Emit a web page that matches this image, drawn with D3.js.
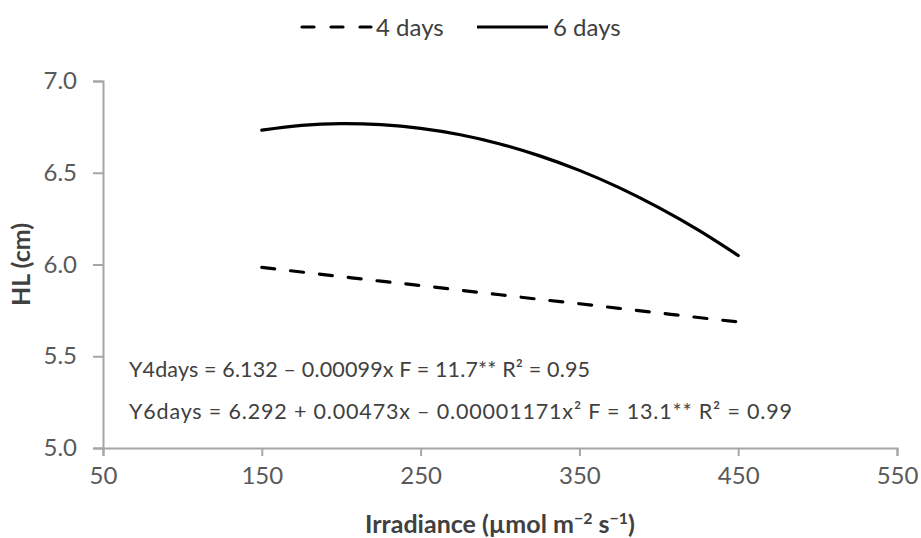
<!DOCTYPE html>
<html>
<head>
<meta charset="utf-8">
<script src="https://cdn.jsdelivr.net/npm/d3@7/dist/d3.min.js"></script>
<style>
  html, body { margin: 0; padding: 0; background: #fff; }
  svg { display: block; font-family: Lato, "Open Sans", sans-serif; }
</style>
</head>
<body>
<svg id="chart" width="921" height="538"></svg>
<script>
// Irradiance levels (µmol m-2 s-1) and hypocotyl length (cm) along each fitted curve
const irradiance = [150, 175, 200, 225, 250, 275, 300, 325, 350, 375, 400, 425, 450];
const hl4days = [5.984, 5.959, 5.934, 5.909, 5.885, 5.860, 5.835, 5.810, 5.786, 5.761, 5.736, 5.711, 5.687];
const hl6days = [6.732, 6.758, 6.768, 6.762, 6.742, 6.707, 6.657, 6.592, 6.513, 6.419, 6.310, 6.187, 6.049];

const seriesNames = ["4 days", "6 days"];
const xTicks = [50, 150, 250, 350, 450, 550];
const yTicks = [5.0, 5.5, 6.0, 6.5, 7.0];

const equations = [
  "Y4days = 6.132 \u2013 0.00099x F = 11.7** R\u00B2 = 0.95",
  "Y6days = 6.292 + 0.00473x \u2013 0.00001171x\u00B2 F = 13.1** R\u00B2 = 0.99"
];
// rendered width of each equation line
const equationWidths = [461, 663];

const svg = d3.select("#chart");
const margin = { left: 103, right: 24, top: 81, bottom: 90 };
const W = 921, H = 538;

const x = d3.scaleLinear().domain([50, 550]).range([margin.left, W - margin.right]);
const y = d3.scaleLinear().domain([5.0, 7.0]).range([H - margin.bottom, margin.top]);

const axisColor = "#a6a6a6";
const tickText = "#595959";
const darkText = "#404040";

// Y axis
const yAxis = svg.append("g")
  .attr("transform", `translate(${margin.left},0)`)
  .call(d3.axisLeft(y).tickValues(yTicks).tickFormat(d3.format(".1f")).tickSizeOuter(0).tickSize(10).tickPadding(16));
// X axis
const xAxis = svg.append("g")
  .attr("transform", `translate(0,${y(5.0)})`)
  .call(d3.axisBottom(x).tickValues(xTicks).tickFormat(d3.format("d")).tickSizeOuter(0).tickSize(8).tickPadding(11));

[yAxis, xAxis].forEach(g => {
  g.select(".domain").attr("stroke", axisColor).attr("stroke-width", 2);
  g.selectAll(".tick line").attr("stroke", axisColor).attr("stroke-width", 2);
  g.selectAll(".tick text").attr("fill", tickText).attr("font-size", 24).attr("font-family", "Lato, 'Open Sans', sans-serif");
});

// Series lines
const line = (vals) => d3.line()
  .x((d, i) => x(irradiance[i]))
  .y(d => y(d))
  .curve(d3.curveNatural)(vals);

svg.append("path")
  .attr("d", line(hl4days))
  .attr("fill", "none")
  .attr("stroke", "#000")
  .attr("stroke-width", 3.2)
  .attr("stroke-linecap", "round")
  .attr("stroke-dasharray", "13,16");

svg.append("path")
  .attr("d", line(hl6days))
  .attr("fill", "none")
  .attr("stroke", "#000")
  .attr("stroke-width", 3.2)
  .attr("stroke-linecap", "round");

// Regression equations
svg.append("g").selectAll("text")
  .data(equations)
  .join("text")
  .attr("x", 129)
  .attr("y", (d, i) => 377 + i * 42)
  .attr("fill", darkText)
  .attr("font-size", 21.5)
  .attr("textLength", (d, i) => equationWidths[i])
  .attr("lengthAdjust", "spacing")
  .text(d => d);

// Legend
const legend = svg.append("g");
legend.append("line")
  .attr("x1", 302).attr("x2", 371).attr("y1", 27).attr("y2", 27)
  .attr("stroke", "#000").attr("stroke-width", 3.2)
  .attr("stroke-linecap", "round").attr("stroke-dasharray", "12,17");
legend.append("text")
  .attr("x", 376).attr("y", 36)
  .attr("fill", darkText).attr("font-size", 24)
  .text(seriesNames[0]);
legend.append("line")
  .attr("x1", 477).attr("x2", 548).attr("y1", 27).attr("y2", 27)
  .attr("stroke", "#000").attr("stroke-width", 3.2);
legend.append("text")
  .attr("x", 553).attr("y", 36)
  .attr("fill", darkText).attr("font-size", 24)
  .text(seriesNames[1]);

// Axis titles
const xt = svg.append("text")
  .attr("x", (x(50) + x(550)) / 2)
  .attr("y", 533)
  .attr("text-anchor", "middle")
  .attr("font-weight", "bold")
  .attr("font-size", 25)
  .attr("fill", darkText);
xt.append("tspan").text("Irradiance (\u00B5mol m");
xt.append("tspan").attr("baseline-shift", "super").attr("font-size", 16).text("\u22122");
xt.append("tspan").text(" s");
xt.append("tspan").attr("baseline-shift", "super").attr("font-size", 16).text("\u22121");
xt.append("tspan").text(")");

svg.append("text")
  .attr("transform", `translate(30,${(y(5) + y(7)) / 2}) rotate(-90)`)
  .attr("text-anchor", "middle")
  .attr("font-weight", "bold")
  .attr("font-size", 25)
  .attr("fill", darkText)
  .text("HL (cm)");
</script>
</body>
</html>
